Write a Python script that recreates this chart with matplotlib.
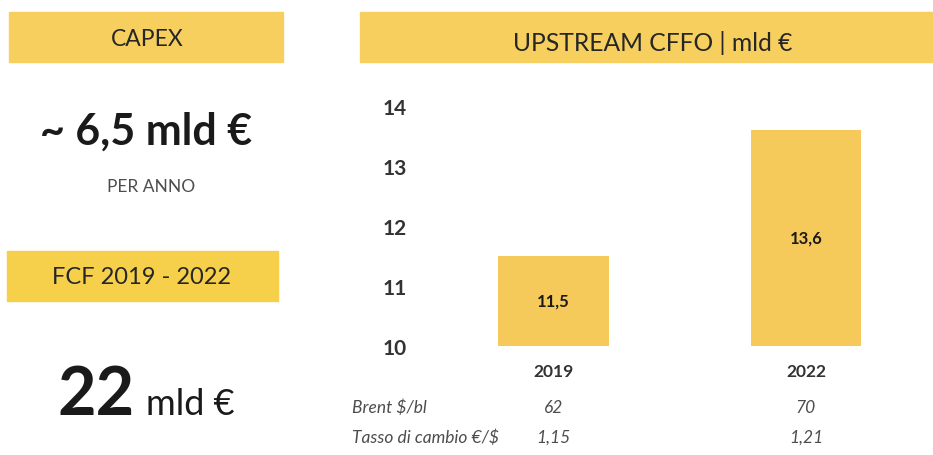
#!/usr/bin/env python3

# Upstream CFFO slide: capex / FCF key figures on the left, bar chart on the right

import matplotlib
matplotlib.use("Agg")
import matplotlib.pyplot as plt
from matplotlib.patches import Rectangle
from matplotlib.transforms import blended_transform_factory

years = ["2019", "2022"]
cffo = [11.5, 13.6]
cffo_labels = ["11,5", "13,6"]
brent = ["62", "70"]
fx_rate = ["1,15", "1,21"]
y_ticks = [10, 11, 12, 13, 14]

W, H = 933, 456
HEADER = "#f7cf5e"
BAR = "#f6ca5a"
DARK = "#262626"
GREY = "#4d4d4d"

plt.rcParams["font.family"] = ["Lato", "DejaVu Sans"]


def fx(px):
    return px / W


def fy(py):
    return 1 - py / H


def header_box(fig, x0, y0, x1, y1, color=HEADER):
    fig.patches.append(Rectangle((fx(x0), fy(y1)), fx(x1 - x0), (y1 - y0) / H,
                                 transform=fig.transFigure, color=color, zorder=0))


fig = plt.figure(figsize=(W / 100, H / 100), dpi=100)

# left column
header_box(fig, 9, 13, 283, 63)
fig.text(fx(147), fy(39), "CAPEX", ha="center", va="center", fontsize=16.5, color=DARK)
fig.text(fx(146), fy(145), "~ 6,5 mld €", ha="center", va="baseline",
         fontsize=31, fontweight="bold", color="#1a1a1a")
fig.text(fx(151), fy(187), "PER ANNO", ha="center", va="center",
         fontsize=12.5, color=GREY)

header_box(fig, 7, 252, 278, 302, color="#f6d04a")
fig.text(fx(141), fy(278), "FCF 2019 - 2022", ha="center", va="center", fontsize=17, color=DARK)
fig.text(fx(135), fy(415), "22", ha="right", va="baseline",
         fontsize=48, fontweight="bold", color="#1a1a1a")
fig.text(fx(146), fy(415), "mld €", ha="left", va="baseline", fontsize=26, color="#1a1a1a")

# right column
header_box(fig, 360, 13, W, 63)
fig.text(fx(653), fy(43), "UPSTREAM CFFO | mld €", ha="center", va="center",
         fontsize=17.7, color=DARK)

left, right = 415, W
y_lo, y_hi = 347, 107
ax = fig.add_axes([fx(left), fy(y_lo), fx(right - left), (y_lo - y_hi) / H])
x = list(range(len(years)))
ax.bar(x, cffo, width=0.436, color=BAR)
ax.set_ylim(10, 14)
ax.set_xlim(-0.5485, 1.503)
ax.set_yticks(y_ticks)
ax.set_yticklabels([str(t) for t in y_ticks], fontsize=15, fontweight="bold", color="#333333")
ax.tick_params(axis="y", length=0, pad=6)
ax.set_xticks([])
for s in ax.spines.values():
    s.set_visible(False)

# value labels sit in the middle of the visible part of each bar
mid = [(10 + v) / 2 for v in cffo]
for xi, lab, m in zip(x, cffo_labels, mid):
    ax.text(xi, m, lab, ha="center", va="center", fontsize=12, fontweight="bold", color="#1a1a1a")

tr = blended_transform_factory(ax.transData, fig.transFigure)
for xi, yr, b, r in zip(x, years, brent, fx_rate):
    ax.text(xi, fy(372), yr, transform=tr, ha="center", va="center",
            fontsize=12.5, fontweight="bold", color="#333333")
    ax.text(xi, fy(408), b, transform=tr, ha="center", va="center",
            fontsize=12.5, style="italic", color=GREY)
    ax.text(xi, fy(438), r, transform=tr, ha="center", va="center",
            fontsize=12.5, style="italic", color=GREY)

fig.text(fx(352), fy(408), "Brent $/bl", ha="left", va="center",
         fontsize=12.5, style="italic", color=GREY)
fig.text(fx(352), fy(438), "Tasso di cambio €/$", ha="left", va="center",
         fontsize=12.5, style="italic", color=GREY)

fig.savefig("out.png", dpi=100)
